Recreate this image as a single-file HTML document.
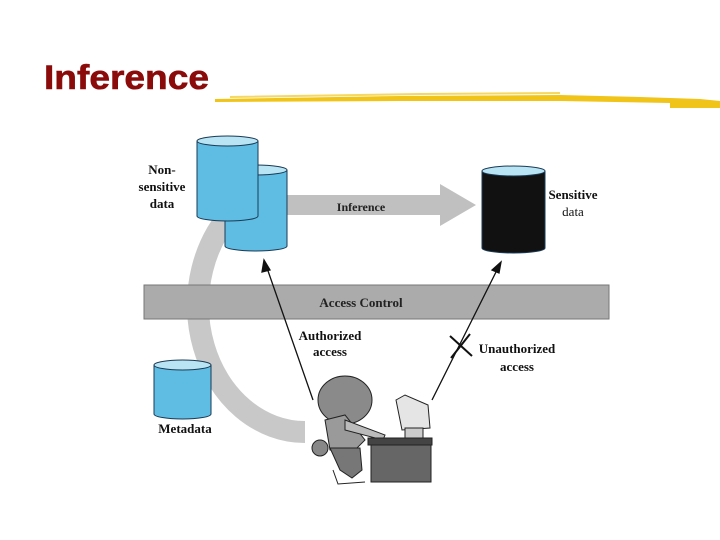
<!DOCTYPE html>
<html><head><style>
body{margin:0;width:720px;height:540px;background:#fff;overflow:hidden;font-family:"Liberation Sans",sans-serif}
svg{position:absolute;left:0;top:0}
</style></head><body>
<svg width="720" height="540" viewBox="0 0 720 540">
<text x="44" y="89" font-family="Liberation Sans" font-weight="bold" font-size="34" fill="#8b0a0a" stroke="#8b0a0a" stroke-width="0.6" textLength="165" lengthAdjust="spacingAndGlyphs">Inference</text>
<path d="M215 99 L400 96 L560 95 L640 97 L700 99 L720 101 L720 108 L670 108 L670 103 L560 101 L400 101 L215 102 Z" fill="#f0c419"/>
<path d="M230 97 L420 94 L560 93" stroke="#f6d860" stroke-width="2" fill="none"/>
<!-- arc -->
<path d="M239 205 A107 127 0 0 0 305 432" stroke="#c8c8c8" stroke-width="22" fill="none"/>
<!-- inference arrow -->
<polygon points="287,195 440,195 440,184 476,205 440,226 440,215 287,215" fill="#c0c0c0"/>
<text x="361" y="211" font-family="Liberation Serif" font-weight="bold" font-size="12" text-anchor="middle" fill="#222">Inference</text>
<!-- cylinders -->
<g stroke="#1a3a55" stroke-width="1">
<path d="M225 170 V246 A31 5 0 0 0 287 246 V170" fill="#5fbde3"/>
<ellipse cx="256" cy="170" rx="31" ry="5" fill="#b8e4f4"/>
<path d="M197 141 V216 A30.5 5 0 0 0 258 216 V141" fill="#5fbde3"/>
<ellipse cx="227.5" cy="141" rx="30.5" ry="5" fill="#b8e4f4"/>
<path d="M154 365 V414 A28.5 5 0 0 0 211 414 V365" fill="#5fbde3"/>
<ellipse cx="182.5" cy="365" rx="28.5" ry="5" fill="#b8e4f4"/>
<path d="M482 171 V248 A31.5 5 0 0 0 545 248 V171" fill="#111"/>
<ellipse cx="513.5" cy="171" rx="31.5" ry="5" fill="#b8e4f4"/>
</g>
<g font-family="Liberation Serif" font-weight="bold" font-size="13" fill="#111" text-anchor="middle">
<text x="162" y="174">Non-</text><text x="162" y="191">sensitive</text><text x="162" y="208">data</text>
<text x="573" y="199">Sensitive</text><text x="573" y="216" font-weight="normal">data</text>
<text x="185" y="433">Metadata</text>
<text x="330" y="340">Authorized</text><text x="330" y="356">access</text>
<text x="517" y="353">Unauthorized</text><text x="517" y="371">access</text>
</g>
<!-- access control bar -->
<rect x="144" y="285" width="465" height="34" fill="#ababab" stroke="#777"/>
<text x="361" y="307" font-family="Liberation Serif" font-weight="bold" font-size="13" text-anchor="middle" fill="#222">Access Control</text>
<!-- arrows -->
<g stroke="#111" stroke-width="1.3" fill="#111">
<line x1="313" y1="400" x2="267" y2="268"/>
<polygon points="264,260 262,272 270,270" />
<line x1="432" y1="400" x2="497" y2="270"/>
<polygon points="501,262 492,270 499,273"/>
<line x1="450" y1="336" x2="472" y2="356" stroke-width="2"/>
<line x1="470" y1="334" x2="451" y2="358" stroke-width="2"/>
</g>
<!-- person & desk -->
<g stroke="#222" stroke-width="1">
<ellipse cx="345" cy="400" rx="27" ry="24" fill="#8a8a8a"/>
<path d="M325 420 L345 415 L365 440 L350 455 L330 450 Z" fill="#9a9a9a"/>
<path d="M330 448 L360 448 L362 470 L352 478 L340 470 Z" fill="#777"/>
<ellipse cx="320" cy="448" rx="8" ry="8" fill="#888"/>
<path d="M345 420 L385 435 L383 440 L345 430 Z" fill="#bbb"/>
<rect x="371" y="442" width="60" height="40" fill="#666"/>
<rect x="368" y="438" width="64" height="7" fill="#444"/>
<path d="M396 400 L405 395 L428 405 L430 428 L402 430 Z" fill="#e5e5e5"/>
<rect x="405" y="428" width="18" height="10" fill="#ccc"/>
<path d="M333 470 L338 484 L365 482" fill="none"/>
</g>
</svg>
</body></html>
